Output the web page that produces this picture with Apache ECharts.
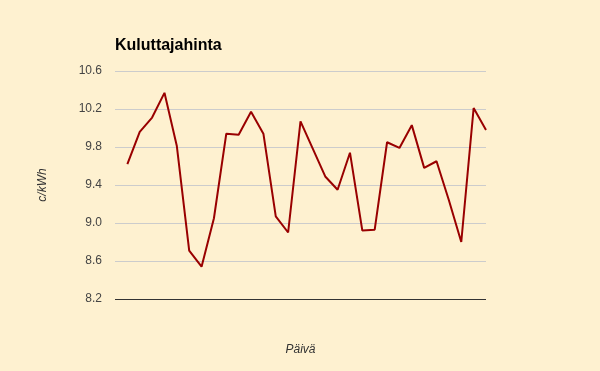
<!DOCTYPE html>
<html>
<head>
<meta charset="utf-8">
<script src="https://cdn.jsdelivr.net/npm/echarts@6/dist/echarts.min.js"></script>
<style>
html,body{margin:0;padding:0;background:#FEF1D0;}
#c{width:600px;height:371px;}
</style>
</head>
<body>
<div id="c"></div>
<script>
var days = [1,2,3,4,5,6,7,8,9,10,11,12,13,14,15,16,17,18,19,20,21,22,23,24,25,26,27,28,29,30];
var prices = [9.62,9.96,10.11,10.37,9.81,8.71,8.54,9.05,9.94,9.93,10.17,9.94,9.07,8.90,10.07,9.78,9.49,9.35,9.74,8.92,8.93,9.85,9.79,10.03,9.58,9.65,9.24,8.80,10.21,9.98];
var yTicks = [8.2,8.6,9.0,9.4,9.8,10.2,10.6];

var chart = echarts.init(document.getElementById('c'), null, {renderer:'canvas'});
chart.setOption({
  backgroundColor:'#FEF1D0',
  animation:false,
  title:{
    text:'Kuluttajahinta', left:110, top:33,
    textStyle:{fontFamily:'Liberation Sans, Arial', fontSize:16, fontWeight:'bold', color:'#000'}
  },
  grid:{left:115, right:114, top:71, bottom:72},
  xAxis:{
    type:'value', min:0, max:30, interval:1,
    name:'Päivä', nameLocation:'middle', nameGap:45,
    nameTextStyle:{fontFamily:'Liberation Sans, Arial', fontSize:12, fontStyle:'italic', color:'#333'},
    axisLine:{show:false}, axisTick:{show:false}, axisLabel:{show:false}, splitLine:{show:false}
  },
  yAxis:{
    type:'value', min:yTicks[0], max:yTicks[yTicks.length-1], interval:0.4,
    name:'c/kWh', nameLocation:'middle', nameGap:66, nameRotate:90,
    nameTextStyle:{fontFamily:'Liberation Sans, Arial', fontSize:12, fontStyle:'italic', color:'#333'},
    axisLine:{show:false}, axisTick:{show:false},
    axisLabel:{fontFamily:'Liberation Sans, Arial', fontSize:12, color:'#444', margin:13,
      formatter:function(v){return v.toFixed(1);}},
    splitLine:{lineStyle:{color:'#CCCCCC', width:1}}
  },
  series:[{
    type:'line',
    data:days.map(function(d,i){return [d,prices[i]];}),
    showSymbol:false, symbol:'none',
    lineStyle:{color:'#990000', width:2},
    markLine:{silent:true, symbol:'none', label:{show:false},
      lineStyle:{color:'#333', width:1, type:'solid'},
      data:[{yAxis:yTicks[0]}]}
  }]
});
</script>
</body>
</html>
